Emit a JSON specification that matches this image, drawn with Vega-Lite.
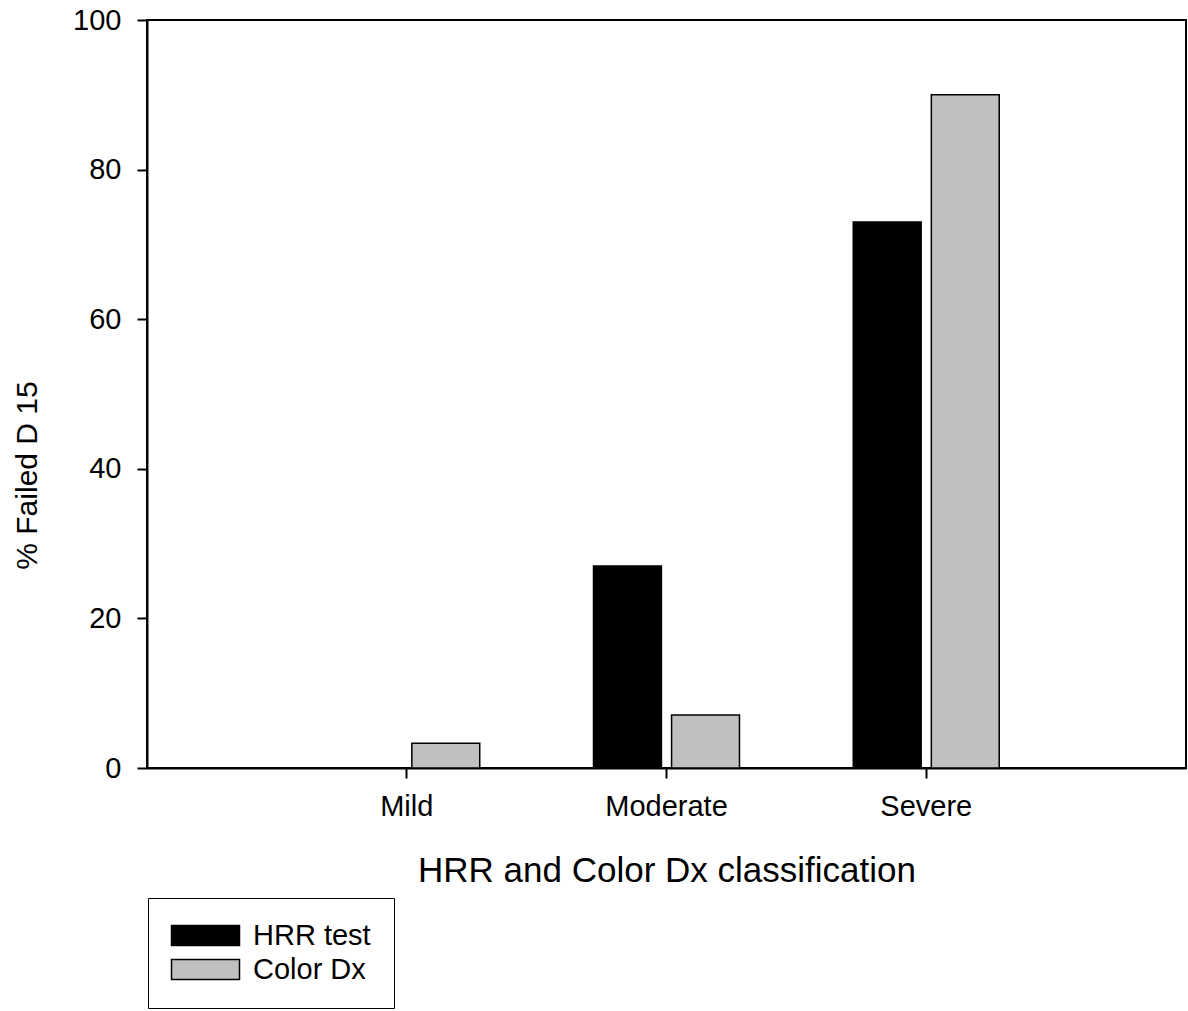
{
  "$schema": "https://vega.github.io/schema/vega-lite/v6.json",
  "width": 1039,
  "height": 748,
  "autosize": {"type": "none"},
  "padding": {"left": 147, "top": 20, "right": 2, "bottom": 243},
  "background": "white",
  "config": {
    "font": "Liberation Sans",
    "view": {"stroke": "black", "strokeWidth": 2},
    "axis": {
      "domainColor": "black",
      "domainWidth": 2,
      "tickColor": "black",
      "tickWidth": 2,
      "tickSize": 10,
      "labelColor": "black",
      "titleColor": "black",
      "grid": false,
      "labelFont": "Liberation Sans",
      "titleFont": "Liberation Sans",
      "titleFontWeight": "normal"
    },
    "legend": {"labelFont": "Liberation Sans"}
  },
  "data": {
    "values": [
      {"severity": "Mild", "test": "HRR test", "pct": 0},
      {"severity": "Mild", "test": "Color Dx", "pct": 3.3},
      {"severity": "Moderate", "test": "HRR test", "pct": 27},
      {"severity": "Moderate", "test": "Color Dx", "pct": 7.1},
      {"severity": "Severe", "test": "HRR test", "pct": 73},
      {"severity": "Severe", "test": "Color Dx", "pct": 90}
    ]
  },
  "mark": {"type": "bar", "stroke": "black", "strokeWidth": 1.5},
  "encoding": {
    "x": {
      "field": "severity",
      "type": "nominal",
      "sort": ["Mild", "Moderate", "Severe"],
      "scale": {"paddingInner": 0.438, "paddingOuter": 0.719},
      "axis": {
        "labelAngle": 0,
        "labelFontSize": 29,
        "labelPadding": 14,
        "title": "HRR and Color Dx classification",
        "titleFontSize": 35,
        "titleBaseline": "top",
        "titleY": 85
      }
    },
    "xOffset": {
      "field": "test",
      "type": "nominal",
      "sort": ["HRR test", "Color Dx"],
      "scale": {"paddingInner": 0.13, "paddingOuter": 0}
    },
    "y": {
      "field": "pct",
      "type": "quantitative",
      "scale": {"domain": [0, 100], "nice": false},
      "axis": {
        "values": [0, 20, 40, 60, 80, 100],
        "labelFontSize": 29,
        "labelPadding": 16,
        "title": "% Failed D 15",
        "titleFontSize": 30,
        "titleAngle": -90,
        "titleX": -120,
        "titleY": 455,
        "titleAlign": "center",
        "titleBaseline": "middle"
      }
    },
    "color": {
      "field": "test",
      "type": "nominal",
      "scale": {"domain": ["HRR test", "Color Dx"], "range": ["black", "#c0c0c0"]},
      "legend": {
        "orient": "none",
        "legendX": 1,
        "legendY": 878,
        "title": null,
        "strokeColor": "black",
        "fillColor": "white",
        "padding": 23,
        "labelFontSize": 29,
        "labelColor": "black",
        "symbolType": "M-1.4,-1H5.4V1H-1.4Z",
        "symbolSize": 400,
        "symbolStrokeColor": "black",
        "symbolStrokeWidth": 1.5,
        "labelOffset": 53,
        "rowPadding": 4
      }
    }
  }
}
